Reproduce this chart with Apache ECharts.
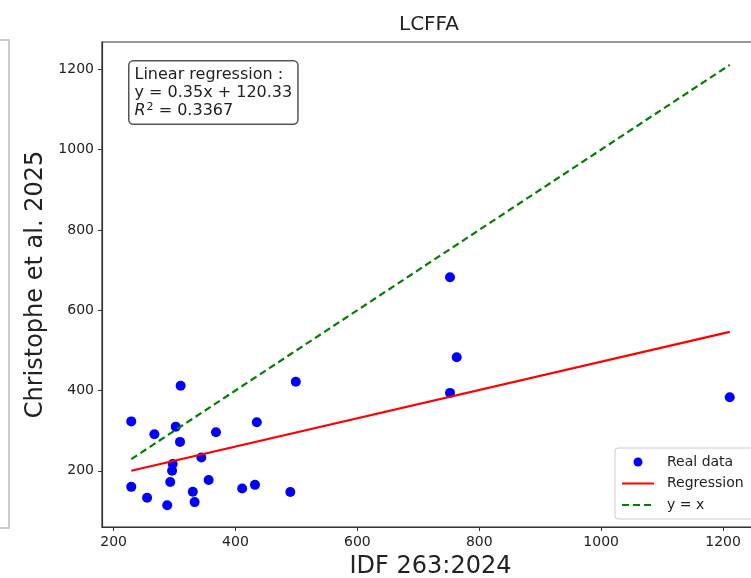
<!DOCTYPE html>
<html>
<head>
<meta charset="utf-8">
<script src="https://cdn.jsdelivr.net/npm/echarts@6/dist/echarts.min.js"></script>
<style>
    html, body { margin: 0; padding: 0; background: #fff; }
    #chart { width: 751px; height: 578px; }
</style>
</head>
<body>
<div id="chart"></div>
<script>
// IDF 263:2024 (x) vs Christophe et al. 2025 (y)
const idfValues = [229, 229, 255, 267, 288, 293, 296, 297, 302, 309, 310, 330, 333, 344, 356, 368, 411, 432, 435, 490, 499, 752, 763, 752, 1211]
const christopheValues = [323, 160, 133, 291, 114, 172, 200, 217, 310, 272, 412, 148, 122, 233, 177, 296, 156, 165, 321, 147, 422, 682, 483, 394, 383]

// line end points
const regressionX = [229, 1211]
const regressionY = [200, 546]
const identityX = [229, 1211]
const identityY = [229, 1211]

const tickValues = [200, 400, 600, 800, 1000, 1200]

const textColor = '#222'
const font = 'DejaVu Sans'

const chart = echarts.init(document.getElementById('chart'))

const axisCommon = {
    type: 'value',
    splitLine: { show: false },
    axisLine: { show: true, onZero: false, lineStyle: { color: '#333', width: 1.2 } },
    axisTick: { show: true, length: 4, customValues: tickValues, lineStyle: { color: '#333' } },
    axisLabel: {
        customValues: tickValues,
        formatter: v => String(v),
        color: textColor,
        fontSize: 14,
        fontFamily: font,
        margin: 8
    },
    nameLocation: 'middle',
    nameTextStyle: { fontSize: 24, color: textColor, fontFamily: font }
}

// hide the dot that echarts puts on line legend icons
const noDot = { opacity: 0 }

const option = {
    animation: false,
    backgroundColor: '#fff',
    title: {
        text: 'LCFFA',
        left: 399,
        top: 15,
        padding: 0,
        textStyle: { fontSize: 20, fontWeight: 'normal', color: textColor, fontFamily: font }
    },
    // plot area runs past the right edge of the picture
    grid: {
        left: 102,
        top: 42,
        width: 657,
        height: 485,
        outerBoundsMode: 'none',
        show: true,
        borderColor: '#333',
        borderWidth: 1.2
    },
    xAxis: Object.assign({}, axisCommon, {
        min: 181,
        max: 1259,
        name: 'IDF 263:2024',
        nameGap: 28
    }),
    yAxis: Object.assign({}, axisCommon, {
        min: 60,
        max: 1268,
        name: 'Christophe et al. 2025',
        nameGap: 53
    }),
    legend: {
        orient: 'vertical',
        left: 615,
        top: 448,
        padding: [7, 10, 7, 6],
        itemWidth: 32,
        itemHeight: 9,
        itemGap: 7.5,
        backgroundColor: 'rgba(255,255,255,0.85)',
        borderColor: '#ccc',
        borderWidth: 1,
        borderRadius: 3,
        textStyle: { fontSize: 14, lineHeight: 14, color: textColor, fontFamily: font, padding: [0, 0, 0, 8] },
        data: [
            { name: 'Real data', icon: 'circle' },
            { name: 'Regression', itemStyle: noDot },
            { name: 'y = x', itemStyle: noDot }
        ]
    },
    series: [
        {
            name: 'Real data',
            type: 'scatter',
            symbolSize: 10,
            itemStyle: { color: '#0000ff', opacity: 1 },
            data: idfValues.map((x, i) => [x, christopheValues[i]])
        },
        {
            name: 'Regression',
            type: 'line',
            symbol: 'none',
            lineStyle: { color: '#ff0000', width: 2.2 },
            itemStyle: { color: '#ff0000' },
            data: regressionX.map((x, i) => [x, regressionY[i]])
        },
        {
            name: 'y = x',
            type: 'line',
            symbol: 'none',
            lineStyle: { color: '#008000', width: 2.2, type: [7, 4] },
            itemStyle: { color: '#008000' },
            data: identityX.map((x, i) => [x, identityY[i]])
        }
    ],
    graphic: [
        {
            // annotation box
            type: 'text',
            left: 128,
            top: 60,
            style: {
                text: 'Linear regression :\ny = 0.35x + 120.33\n{i|R}{s|2} = 0.3367',
                fontSize: 16,
                lineHeight: 18,
                fontFamily: font,
                fill: textColor,
                backgroundColor: '#fff',
                borderColor: '#555',
                borderWidth: 1.5,
                borderRadius: 4,
                padding: [4, 5, 4, 5],
                rich: {
                    i: { fontStyle: 'italic', fontSize: 16, fontFamily: font, fill: textColor },
                    s: { fontSize: 11, fontFamily: font, verticalAlign: 'top', padding: [0, 0, 6, 1], fill: textColor }
                }
            }
        },
        {
            // edge of the neighbouring panel
            type: 'polyline',
            shape: { points: [[0, 40], [9, 40], [9, 528], [0, 528]] },
            style: { stroke: '#bbb', lineWidth: 1.5, fill: null }
        }
    ]
}

chart.setOption(option)
</script>
</body>
</html>
